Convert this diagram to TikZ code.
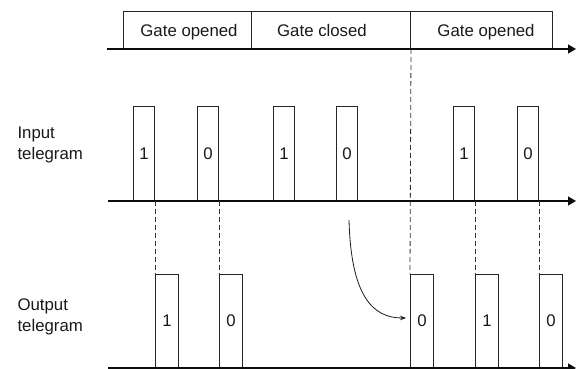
\documentclass[tikz,border=0pt]{standalone}
\usepackage{fontspec}
\setmainfont{Liberation Sans}
\usetikzlibrary{arrows.meta}
\begin{document}
\begin{tikzpicture}[x=1pt,y=-1pt,
  every node/.style={font=\fontsize{16.8}{20.5}\selectfont, text=black!90},
  ln/.style={draw=black!85, line width=1pt},
  pulse/.style={ln, rectangle, anchor=south west, inner sep=0pt},
  inpulse/.style={pulse, minimum width=21pt, minimum height=94pt},
  outpulse/.style={pulse, minimum width=23pt, minimum height=93pt},
  gatebox/.style={ln, rectangle, anchor=south west, inner sep=0pt, minimum height=37pt},
  gatetext/.style={anchor=base, inner sep=0pt},
  axis/.style={line width=1.1pt, draw=black!95, -{Triangle[length=8pt,width=9pt]}},
  guide/.style={draw=black!80, line width=0.8pt, dash pattern=on 5pt off 3pt}]
\useasboundingbox (0,0) rectangle (576,369);
% gate boxes
\node[gatebox, minimum width=128pt] (g1) at (123,49) {};
\node[gatebox, minimum width=159pt] (g2) at (251,49) {};
\node[gatebox, minimum width=142pt] (g3) at (410,49) {};
\node[gatetext] (g1t) at (189,37) {Gate opened};
\node[gatetext] (g2t) at (322,37) {Gate closed};
\node[gatetext] (g3t) at (486,37) {Gate opened};
% axes
\coordinate (t0) at (107,49);  \coordinate (t1) at (576,49);
\coordinate (i0) at (108,201); \coordinate (i1) at (576,201);
\coordinate (o0) at (108,368); \coordinate (o1) at (576,368);
\draw[axis] (t0) -- (t1);
% labels
\node[anchor=west, align=left] (lin) at (14,145) {Input\\telegram};
\node[anchor=west, align=left] (lout) at (14,317) {Output\\telegram};
% input pulses
\node[inpulse] (p1) at (133,201) {1};
\node[inpulse] (p2) at (197,201) {0};
\node[inpulse] (p3) at (273,201) {1};
\node[inpulse] (p4) at (336,201) {0};
\node[inpulse] (p5) at (453,201) {1};
\node[inpulse] (p6) at (517,201) {0};
% output pulses
\node[outpulse] (q1) at (155,368) {1};
\node[outpulse] (q2) at (219,368) {0};
\node[outpulse] (q3) at (410,368) {0};
\node[outpulse] (q4) at (475,368) {1};
\node[outpulse] (q5) at (539,368) {0};
\draw[axis] (i0) -- (i1);
\draw[axis] (o0) -- (o1);
% guides
\draw[guide] (p1.south east) -- (p1.south east |- q1.north);
\draw[guide] (p2.south east) -- (p2.south east |- q2.north);
\draw[guide] (g2.south east) -- (q3.north west);
\draw[guide] (p5.south east) -- (p5.south east |- q4.north);
\draw[guide] (p6.south east) -- (p6.south east |- q5.north);
% curved arrow
\coordinate (cs) at (349,220);
\draw[draw=black!90, line width=0.8pt, -{Stealth[length=6pt,width=4.5pt]}]
  (cs) .. controls (351,295) and (372,318) .. ([xshift=-4pt,yshift=3pt]q3.west);
\end{tikzpicture}
\end{document}
